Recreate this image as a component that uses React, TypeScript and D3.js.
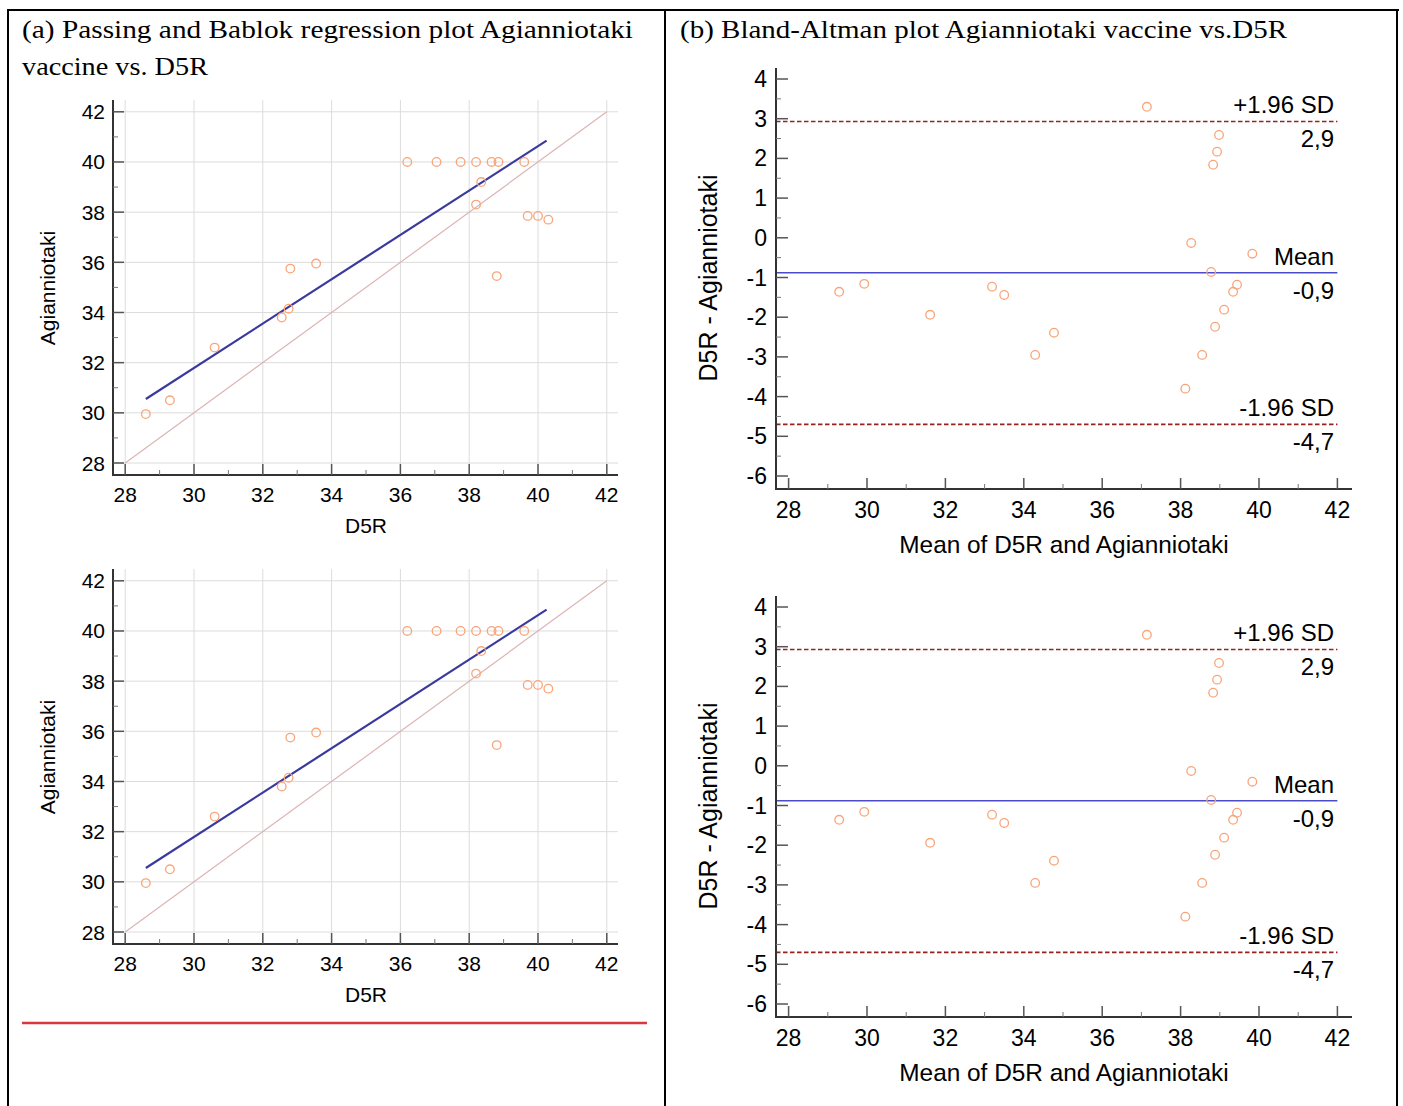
import * as d3 from 'd3';

// Passing & Bablok panel: D5R (x) vs Agianniotaki (y)
const D5R = [28.6, 29.3, 30.6, 32.55, 32.75, 32.8, 33.55, 36.2, 37.05, 37.75, 38.2, 38.65, 38.85, 39.6, 38.35, 38.2, 39.7, 40.0, 40.3, 38.8];
const AGIA = [29.95, 30.5, 32.6, 33.8, 34.15, 35.75, 35.95, 40, 40, 40, 40, 40, 40, 40, 39.2, 38.3, 37.85, 37.85, 37.7, 35.45];
const REG_X = [28.6, 40.25];
const REG_Y = [30.55, 40.85];
const IDENTITY = [28, 42];
const PB_TICKS = [28, 30, 32, 34, 36, 38, 40, 42];

// Bland-Altman panel
const BA_MEAN = [29.29, 29.93, 31.61, 33.19, 33.5, 34.29, 34.77, 37.14, 38.98, 38.93, 38.83, 38.27, 39.83, 38.78, 39.44, 39.34, 39.11, 38.88, 38.55, 38.12];
const BA_DIFF = [-1.36, -1.16, -1.94, -1.23, -1.44, -2.95, -2.39, 3.3, 2.59, 2.17, 1.84, -0.13, -0.4, -0.86, -1.18, -1.36, -1.81, -2.24, -2.95, -3.8];
const BA_X_TICKS = [28, 30, 32, 34, 36, 38, 40, 42];
const BA_Y_TICKS = [4, 3, 2, 1, 0, -1, -2, -3, -4, -5, -6];
const BA_LIMIT_VALUES = [2.93, -0.88, -4.7];
const BA_LIMIT_NAMES = ['+1.96 SD', 'Mean', '-1.96 SD'];
const BA_LIMIT_LABELS = ['2,9', '-0,9', '-4,7'];

const SANS = 'Liberation Sans, Arial, sans-serif';
const SERIF = 'Liberation Serif, serif';
const POINT = '#f8a57a';

function PBPanel({ dy }: { dy: number }) {
  const x = d3.scaleLinear().domain([28, 42]).range([125.2, 606.8]);
  const y = d3.scaleLinear().domain([28, 42]).range([463 + dy, 111.8 + dy]);
  const left = 113;
  const bottom = 475 + dy;
  const top = 100 + dy;
  const right = 618;
  const minor = d3.range(29, 42, 2);
  const reg = d3.line<number>().x((d) => x(d)).y((_, i) => y(REG_Y[i]));

  return (
    <g>
      {PB_TICKS.map((t) => (
        <g key={'g' + t}>
          <line x1={x(t)} x2={x(t)} y1={top} y2={bottom} stroke="#dcdcdc" />
          <line x1={left} x2={right} y1={y(t)} y2={y(t)} stroke="#dcdcdc" />
        </g>
      ))}
      <line x1={x(IDENTITY[0])} y1={y(IDENTITY[0])} x2={x(IDENTITY[1])} y2={y(IDENTITY[1])} stroke="#dcb4b4" strokeWidth={1.2} />
      <path d={reg(REG_X) ?? ''} fill="none" stroke="#3a3a9e" strokeWidth={2.2} />
      {D5R.map((v, i) => (
        <circle key={i} cx={x(v)} cy={y(AGIA[i])} r={4.3} fill="none" stroke={POINT} strokeWidth={1.3} />
      ))}
      {/* axes */}
      <line x1={left} x2={left} y1={top} y2={bottom + 1} stroke="#333" strokeWidth={2} />
      <line x1={left - 1} x2={right} y1={bottom} y2={bottom} stroke="#333" strokeWidth={2} />
      {PB_TICKS.map((t) => (
        <g key={'t' + t}>
          <line x1={x(t)} x2={x(t)} y1={bottom} y2={bottom - 11} stroke="#555" strokeWidth={1.5} />
          <line x1={left} x2={left + 11} y1={y(t)} y2={y(t)} stroke="#555" strokeWidth={1.5} />
          <text x={x(t)} y={bottom + 27} textAnchor="middle" fontSize={21} fontFamily={SANS}>{t}</text>
          <text x={105} y={y(t) + 7.5} textAnchor="end" fontSize={21} fontFamily={SANS}>{t}</text>
        </g>
      ))}
      {minor.map((t) => (
        <g key={'m' + t}>
          <line x1={x(t)} x2={x(t)} y1={bottom} y2={bottom - 5} stroke="#777" />
          <line x1={left} x2={left + 5} y1={y(t)} y2={y(t)} stroke="#777" />
        </g>
      ))}
      <text x={366} y={bottom + 58} textAnchor="middle" fontSize={21} fontFamily={SANS}>D5R</text>
      <text transform={`translate(55,${288 + dy}) rotate(-90)`} textAnchor="middle" fontSize={21} fontFamily={SANS}>Agianniotaki</text>
    </g>
  );
}

function BAPanel({ dy }: { dy: number }) {
  const x = d3.scaleLinear().domain([28, 42]).range([788.6, 1337.4]);
  const y = d3.scaleLinear().domain([-6, 4]).range([476 + dy, 79 + dy]);
  const left = 776;
  const bottom = 489 + dy;
  const top = 68 + dy;
  const right = 1352;
  const minorX = d3.range(29, 42, 2);
  const minorY = d3.range(-5.5, 4, 1);

  return (
    <g>
      {BA_LIMIT_VALUES.map((v, i) => (
        <g key={'l' + i}>
          <line
            x1={left}
            x2={x(42)}
            y1={y(v)}
            y2={y(v)}
            stroke={i === 1 ? '#4c4cc8' : '#962222'}
            strokeWidth={i === 1 ? 1.6 : 1.6}
            strokeDasharray={i === 1 ? undefined : '4.5,2.5'}
          />
          <text x={1334} y={y(v) - 8} textAnchor="end" fontSize={24} fontFamily={SANS}>{BA_LIMIT_NAMES[i]}</text>
          <text x={1334} y={y(v) + 26} textAnchor="end" fontSize={24} fontFamily={SANS}>{BA_LIMIT_LABELS[i]}</text>
        </g>
      ))}
      {BA_MEAN.map((v, i) => (
        <circle key={i} cx={x(v)} cy={y(BA_DIFF[i])} r={4.3} fill="none" stroke={POINT} strokeWidth={1.3} />
      ))}
      <line x1={left} x2={left} y1={top} y2={bottom + 1} stroke="#333" strokeWidth={2} />
      <line x1={left - 1} x2={right} y1={bottom} y2={bottom} stroke="#333" strokeWidth={2} />
      {BA_X_TICKS.map((t) => (
        <g key={'x' + t}>
          <line x1={x(t)} x2={x(t)} y1={bottom} y2={bottom - 11} stroke="#555" strokeWidth={1.5} />
          <text x={x(t)} y={bottom + 29} textAnchor="middle" fontSize={23} fontFamily={SANS}>{t}</text>
        </g>
      ))}
      {BA_Y_TICKS.map((t) => (
        <g key={'y' + t}>
          <line x1={left} x2={left + 12} y1={y(t)} y2={y(t)} stroke="#555" strokeWidth={1.5} />
          <text x={767} y={y(t) + 8} textAnchor="end" fontSize={23} fontFamily={SANS}>{t}</text>
        </g>
      ))}
      {minorX.map((t) => (
        <line key={'mx' + t} x1={x(t)} x2={x(t)} y1={bottom} y2={bottom - 5} stroke="#777" />
      ))}
      {minorY.map((t) => (
        <line key={'my' + t} x1={left} x2={left + 5} y1={y(t)} y2={y(t)} stroke="#777" />
      ))}
      <text x={1064} y={bottom + 64} textAnchor="middle" fontSize={24.4} fontFamily={SANS}>Mean of D5R and Agianniotaki</text>
      <text transform={`translate(717,${278 + dy}) rotate(-90)`} textAnchor="middle" fontSize={25} fontFamily={SANS}>D5R - Agianniotaki</text>
    </g>
  );
}

export default function App() {
  return (
    <svg
      width={1403}
      height={1106}
      style={{ position: 'absolute', left: 0, top: 0, background: '#fff' }}
    >
      <rect width={1403} height={1106} fill="#fff" />
      {/* table frame */}
      <line x1={7} x2={1399} y1={10} y2={10} stroke="#000" strokeWidth={2} />
      <line x1={8} x2={8} y1={9} y2={1106} stroke="#000" strokeWidth={2} />
      <line x1={665} x2={665} y1={9} y2={1106} stroke="#000" strokeWidth={2} />
      <line x1={1397} x2={1397} y1={9} y2={1106} stroke="#000" strokeWidth={2} />

      <text x={22} y={38} fontSize={26} fontFamily={SERIF} textLength={611} lengthAdjust="spacingAndGlyphs">
        (a) Passing and Bablok regression plot Agianniotaki
      </text>
      <text x={22} y={75} fontSize={26} fontFamily={SERIF} textLength={186} lengthAdjust="spacingAndGlyphs">
        vaccine vs. D5R
      </text>
      <text x={680} y={38} fontSize={26} fontFamily={SERIF} textLength={607} lengthAdjust="spacingAndGlyphs">
        (b) Bland-Altman plot Agianniotaki vaccine vs.D5R
      </text>

      <PBPanel dy={0} />
      <PBPanel dy={469} />
      <BAPanel dy={0} />
      <BAPanel dy={528} />

      <line x1={22} x2={647} y1={1023} y2={1023} stroke="#d9363e" strokeWidth={2.5} />
    </svg>
  );
}
